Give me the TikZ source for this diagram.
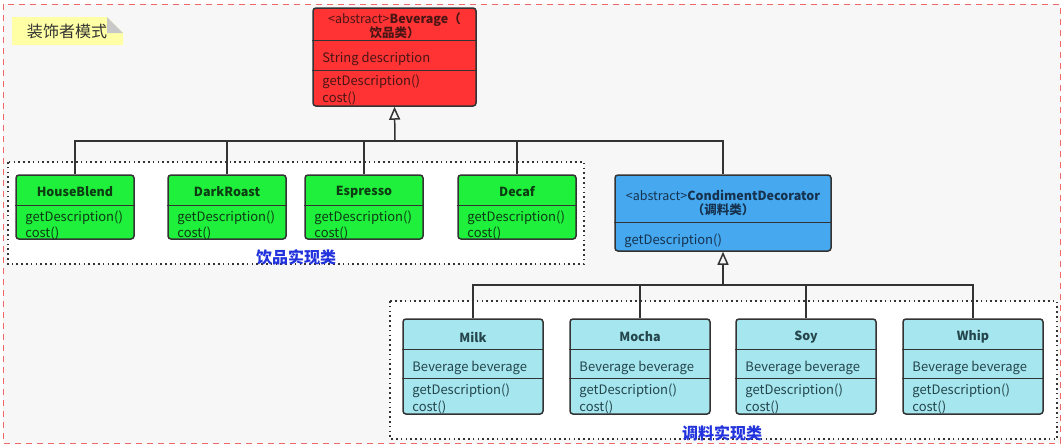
\documentclass[tikz,border=0pt]{standalone}
\usepackage{fontspec}
\setmainfont{Noto Sans CJK SC}
\usetikzlibrary{arrows.meta, positioning, calc}

\definecolor{boxline}{HTML}{333333}
\definecolor{pagebg}{HTML}{F7F7F7}
\definecolor{pageline}{HTML}{F06868}
\definecolor{notefill}{HTML}{FFFFA6}
\definecolor{notefold}{HTML}{C8C8C8}
\definecolor{bevred}{HTML}{FF3333}
\definecolor{bevtext}{HTML}{4A1515}
\definecolor{drinkgreen}{HTML}{1EF03C}
\definecolor{drinktext}{HTML}{0E3B12}
\definecolor{sauceblue}{HTML}{46A9F0}
\definecolor{saucetext}{HTML}{16324F}
\definecolor{saucecyan}{HTML}{A6E6EE}
\definecolor{cyantext}{HTML}{24454C}
\definecolor{labelblue}{HTML}{2233DD}

\begin{document}
\begin{tikzpicture}[x=1pt, y=-1pt,
  classbox/.style={draw=boxline, line width=1.5pt, rounded corners=3pt, inner sep=0pt},
  divider/.style={draw=boxline, line width=1.5pt},
  member/.style={anchor=west, inner sep=0pt, font=\fontsize{13}{15}\selectfont},
  title/.style={inner sep=0pt, align=center, font=\fontsize{12.5}{14}\selectfont\bfseries},
  link/.style={draw=boxline, line width=1.5pt},
  inherit/.style={link, -{Triangle[open, length=13pt, width=11pt, line width=1.5pt]}},
  group/.style={draw=boxline, line width=1.6pt, dash pattern=on 1.6pt off 3.2pt, fill=white},
  grouplabel/.style={text=labelblue, inner sep=0pt, font=\fontsize{16}{18}\selectfont\bfseries}
]
  \useasboundingbox (0,0) rectangle (1064,445);
  \fill[white] (0,0) rectangle (1064,445);
  \draw[fill=pagebg, draw=pageline, line width=1pt, dash pattern=on 6pt off 5pt]
    (3,4) rectangle (1060,443);

  % 标题便签
  \fill[notefill] (12,17) -- (107,17) -- (123,33) -- (123,45) -- (12,45) -- cycle;
  \fill[notefold] (107,17) -- (107,33) -- (123,33) -- cycle;
  \node[inner sep=0pt, text=boxline, font=\fontsize{16}{18}\selectfont] (note) at (67,31) {装饰者模式};

  % 分组框
  \draw[group] (8,162) rectangle (584,264);
  \node[grouplabel] (drinklabel) at (296,257) {饮品实现类};
  \draw[group] (390,301) rectangle (1057,439);
  \node[grouplabel] (saucelabel) at (722,433) {调料实现类};

  % 饮品基类
  \node[classbox, fill=bevred, minimum width=163pt, minimum height=98pt] (bev) at (394.5,57) {};
  \draw[divider] ($(bev.north west)+(0,33)$) -- ($(bev.north east)+(0,33)$);
  \draw[divider] ($(bev.north west)+(0,63)$) -- ($(bev.north east)+(0,63)$);
  \node[title, text=bevtext] (bevtitle) at (394.5,26) {\mdseries<abstract>\bfseries Beverage（\\饮品类）};
  \node[member, text=bevtext] at ($(bev.north west)+(10,52)$) {String description};
  \node[member, text=bevtext] at ($(bev.north west)+(10,75)$) {getDescription()};
  \node[member, text=bevtext] at ($(bev.north west)+(10,91)$) {cost()};

  % 饮品实现类
  \foreach \cls/\cx in {HouseBlend/75, DarkRoast/227, Espresso/364, Decaf/517} {
    \node[classbox, fill=drinkgreen, minimum width=118pt, minimum height=64pt] (\cls) at (\cx,207) {};
    \draw[divider] ($(\cls.north west)+(0,31)$) -- ($(\cls.north east)+(0,31)$);
    \node[title, text=drinktext] at (\cx,192) {\cls};
    \node[member, text=drinktext] at ($(\cls.north west)+(10,44)$) {getDescription()};
    \node[member, text=drinktext] at ($(\cls.north west)+(10,59)$) {cost()};
  }

  % 调料基类
  \node[classbox, fill=sauceblue, minimum width=216pt, minimum height=76pt] (cd) at (723,213) {};
  \draw[divider] ($(cd.north west)+(0,48)$) -- ($(cd.north east)+(0,48)$);
  \node[title, text=saucetext] (cdtitle) at (723,203) {\mdseries<abstract>\bfseries CondimentDecorator\\（调料类）};
  \node[member, text=saucetext] at ($(cd.north west)+(10,67)$) {getDescription()};

  % 调料实现类
  \foreach \cls/\cx in {Milk/473, Mocha/640, Soy/806, Whip/973} {
    \node[classbox, fill=saucecyan, minimum width=140pt, minimum height=95pt] (\cls) at (\cx,366.5) {};
    \draw[divider] ($(\cls.north west)+(0,31)$) -- ($(\cls.north east)+(0,31)$);
    \draw[divider] ($(\cls.north west)+(0,60)$) -- ($(\cls.north east)+(0,60)$);
    \node[title, text=cyantext] at (\cx,337) {\cls};
    \node[member, text=cyantext] at ($(\cls.north west)+(10,50)$) {Beverage beverage};
    \node[member, text=cyantext] at ($(\cls.north west)+(10,73)$) {getDescription()};
    \node[member, text=cyantext] at ($(\cls.north west)+(10,89)$) {cost()};
  }

  % 继承关系
  \coordinate (drinkbus) at (395,141);
  \draw[link] (HouseBlend.north) |- (drinkbus) -| (cd.north);
  \foreach \cls in {DarkRoast, Espresso, Decaf}
    \draw[link] (\cls.north) |- (drinkbus);
  \draw[inherit] (drinkbus) -- (bev.south);

  \coordinate (saucebus) at (723,285);
  \draw[link] (Milk.north) |- (saucebus) -| (Whip.north);
  \foreach \cls in {Mocha, Soy}
    \draw[link] (\cls.north) |- (saucebus);
  \draw[inherit] (saucebus) -- (cd.south);
\end{tikzpicture}
\end{document}
